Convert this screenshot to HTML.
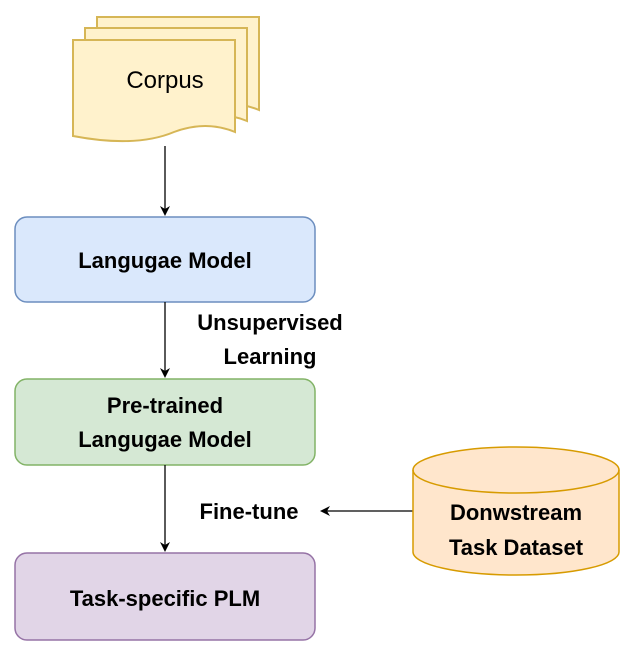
<!DOCTYPE html>
<html><head><style>body{margin:0;background:#fff}</style></head><body>
<svg width="632" height="656" xmlns="http://www.w3.org/2000/svg" font-family="Liberation Sans, sans-serif">
<defs><marker id="a" markerWidth="10" markerHeight="10" refX="8" refY="5" orient="auto" markerUnits="userSpaceOnUse"><path d="M0,0 L10,5 L0,10 L3,5 Z" fill="#000"/></marker></defs>
<g fill="#fff2cc" stroke="#d6b656" stroke-width="2">
<path d="M97,17 H259 V110 Q230,98 198,110 Q160,126 97,114 Z"/>
<path d="M85,28 H247 V121 Q218,109 186,121 Q148,137 85,125 Z"/>
<path d="M73,40 H235 V132 Q206,120 174,132 Q136,148 73,136 Z"/>
</g>
<text x="165" y="88" font-size="24" text-anchor="middle">Corpus</text>
<line x1="165" y1="146" x2="165" y2="214" stroke="#000" stroke-width="1.3" marker-end="url(#a)"/>
<rect x="15" y="217" width="300" height="85" rx="12" fill="#dae8fc" stroke="#6c8ebf" stroke-width="1.5"/>
<text x="165" y="268" font-size="22" font-weight="bold" text-anchor="middle">Langugae Model</text>
<line x1="165" y1="302" x2="165" y2="376" stroke="#000" stroke-width="1.3" marker-end="url(#a)"/>
<text x="270" y="330" font-size="22" font-weight="bold" text-anchor="middle">Unsupervised</text>
<text x="270" y="364" font-size="22" font-weight="bold" text-anchor="middle">Learning</text>
<rect x="15" y="379" width="300" height="86" rx="12" fill="#d5e8d4" stroke="#82b366" stroke-width="1.5"/>
<text x="165" y="413" font-size="22" font-weight="bold" text-anchor="middle">Pre-trained</text>
<text x="165" y="447" font-size="22" font-weight="bold" text-anchor="middle">Langugae Model</text>
<line x1="165" y1="465" x2="165" y2="550" stroke="#000" stroke-width="1.3" marker-end="url(#a)"/>
<rect x="15" y="553" width="300" height="87" rx="12" fill="#e1d5e7" stroke="#9673a6" stroke-width="1.5"/>
<text x="165" y="606" font-size="22" font-weight="bold" text-anchor="middle">Task-specific PLM</text>
<text x="249" y="519" font-size="22" font-weight="bold" text-anchor="middle">Fine-tune</text>
<line x1="413" y1="511" x2="322" y2="511" stroke="#000" stroke-width="1.3" marker-end="url(#a)"/>
<path d="M413,470 A103,23 0 0 1 619,470 V552 A103,23 0 0 1 413,552 Z" fill="#ffe6cc" stroke="#d79b00" stroke-width="1.5"/>
<path d="M413,470 A103,23 0 0 0 619,470" fill="none" stroke="#d79b00" stroke-width="1.5"/>
<text x="516" y="520" font-size="22" font-weight="bold" text-anchor="middle">Donwstream</text>
<text x="516" y="555" font-size="22" font-weight="bold" text-anchor="middle">Task Dataset</text>
</svg>
</body></html>
